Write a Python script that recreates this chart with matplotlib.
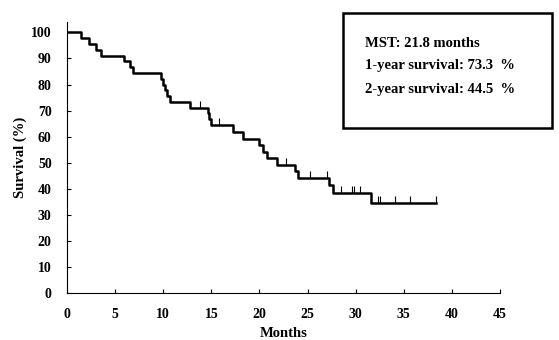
import matplotlib
matplotlib.use("Agg")
import matplotlib.pyplot as plt
from matplotlib.patches import Rectangle


# Kaplan-Meier steps (months, survival % after the drop)
step_months = [0, 1.5, 2.3, 3.0, 3.5, 5.9, 6.5, 6.9, 9.8, 10.0, 10.2, 10.4, 10.7,
               12.8, 14.6, 14.8, 15.0, 17.2, 18.3, 20.0, 20.4, 20.8, 21.8,
               23.7, 24.0, 27.2, 27.6, 31.6, 38.3]
step_surv = [100, 97.8, 95.6, 93.3, 91.1, 88.9, 86.7, 84.4, 82.2, 80.0, 77.8, 75.6, 73.3,
             71.1, 68.9, 66.7, 64.4, 61.8, 59.2, 56.8, 54.2, 51.7, 49.2,
             46.7, 44.2, 41.4, 38.5, 34.4, 34.4]

# censored observations
censor_months = [13.8, 15.8, 22.8, 25.2, 27.0, 28.5, 29.6, 29.8, 30.4,
                 32.3, 32.5, 34.1, 35.6, 38.3]
censor_surv = [71.1, 64.4, 49.2, 44.2, 44.2, 38.5, 38.5, 38.5, 38.5,
               34.4, 34.4, 34.4, 34.4, 34.4]

x_ticks = [0, 5, 10, 15, 20, 25, 30, 35, 40, 45]
y_ticks = [0, 10, 20, 30, 40, 50, 60, 70, 80, 90, 100]

info_lines = ["MST: 21.8 months",
              "1-year survival: 73.3  %",
              "2-year survival: 44.5  %"]


def main():
    plt.rcParams["font.family"] = ["Liberation Serif", "DejaVu Serif"]
    plt.rcParams["font.weight"] = "bold"

    fig = plt.figure(figsize=(5.59, 3.4), dpi=100)
    ax = fig.add_axes([0.1199, 0.1382, 0.7746, 0.7971])

    ax.step(step_months, step_surv, where="post", color="black", lw=1.8)
    ax.plot(censor_months, censor_surv, linestyle="none", marker=2,
            markersize=5, markeredgewidth=0.8, color="black")

    ax.set_xlim(0, 45)
    ax.set_ylim(0, 104)
    ax.set_xticks(x_ticks)
    ax.set_yticks(y_ticks)

    for side in ["top", "right"]:
        ax.spines[side].set_visible(False)
    for side in ["left", "bottom"]:
        ax.spines[side].set_linewidth(0.8)

    ax.tick_params(axis="both", direction="in", length=3, width=0.8,
                   labelsize=10, pad=11)
    for lab in ax.get_xticklabels() + ax.get_yticklabels():
        lab.set_fontweight("bold")

    ax.set_xlabel("Months", fontsize=10.5, fontweight="bold", labelpad=4)
    ax.set_ylabel("Survival (%)", fontsize=10.5, fontweight="bold", labelpad=3)

    # summary box
    fig.patches.append(Rectangle((0.6136, 0.6235), 0.3739, 0.3383,
                                 transform=fig.transFigure, fill=False,
                                 edgecolor="black", lw=1.8))
    for text, y in zip(info_lines, [0.8735, 0.806, 0.738]):
        fig.text(0.653, y, text, fontsize=10.5, fontweight="bold",
                 va="center", ha="left")

    fig.savefig("out.png", dpi=100)
    plt.close(fig)


if __name__ == "__main__":
    main()
